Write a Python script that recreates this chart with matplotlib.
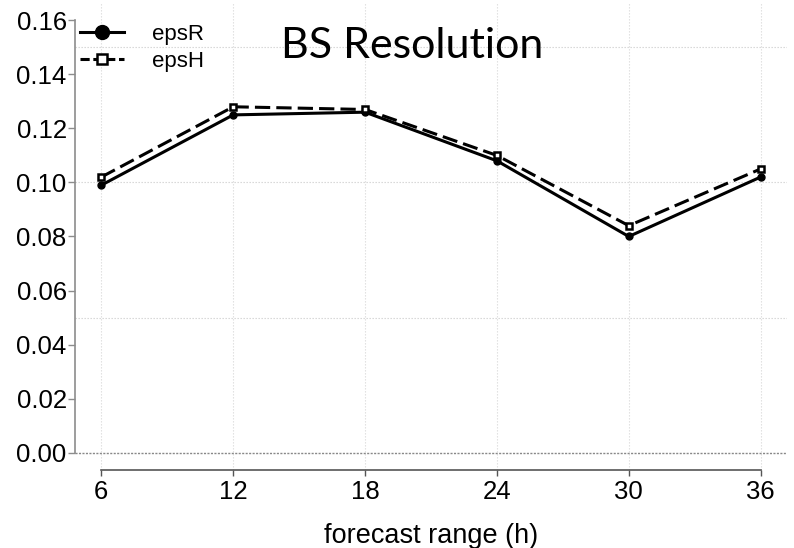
import numpy as np
import matplotlib
matplotlib.use("Agg")
from matplotlib import pyplot as plt
from matplotlib.lines import Line2D

# values
hours = [6, 12, 18, 24, 30, 36]
eps_r = [0.099, 0.125, 0.126, 0.108, 0.080, 0.102]
eps_h = [0.102, 0.128, 0.127, 0.110, 0.084, 0.105]
y_ticks = [0.00, 0.02, 0.04, 0.06, 0.08, 0.10, 0.12, 0.14, 0.16]
y_grid = [0.05, 0.10, 0.15]

plt.rcParams['font.family'] = ['Liberation Sans', 'DejaVu Sans']

fig = plt.figure(figsize=(7.94, 5.48), dpi=100)
ax = fig.add_axes([75 / 794, 1 - 470 / 548, 712 / 794, 467 / 548])

# R style range (4% padding)
ax.set_xlim(4.8, 37.2)
ax.set_ylim(-0.0064, 0.1664)

# grid
for h in hours:
    ax.axvline(h, color='#dddddd', lw=0.8, ls=(0, (1.2, 1.5)), zorder=0)
for g in y_grid:
    ax.axhline(g, color='#d2d2d2', lw=0.8, ls=(0, (1.2, 1.5)), zorder=0)
ax.axhline(0, color='#888888', lw=1.0, ls=(0, (1.5, 1)), zorder=0)

ax.plot(hours, eps_r, color='black', lw=2.2, marker='o', markersize=5,
        mfc='black', mec='black', zorder=3)
ax.plot(hours, eps_h, color='black', lw=2.2, ls=(0, (5, 2)), marker='s',
        markersize=5, mfc='white', mec='black', mew=1.8, zorder=3)

# axes like R base graphics
for s in ['top', 'right']:
    ax.spines[s].set_visible(False)
ax.spines['left'].set_bounds(0, 0.16)
ax.spines['bottom'].set_bounds(6, 36)
ax.spines['left'].set_color('#8c8c8c')
ax.spines['bottom'].set_color('#555555')
ax.spines['left'].set_linewidth(1.2)
ax.spines['bottom'].set_linewidth(1.2)

ax.set_xticks(hours)
ax.set_xticklabels([str(h) for h in hours])
ax.set_yticks(y_ticks)
ax.set_yticklabels(['%.2f' % v for v in y_ticks])
ax.tick_params(axis='y', length=5, width=1.0, color='#8c8c8c', pad=1, labelsize=18.5)
ax.tick_params(axis='x', length=4, width=1.0, color='#555555', pad=3, labelsize=18.5)

ax.set_xlabel("forecast range (h)", fontsize=19.5, labelpad=14)

handles = [
    Line2D([], [], color='black', lw=2.2, marker='o', markersize=10),
    Line2D([], [], color='black', lw=2.2, ls=(0, (3, 1.2)), marker='s',
           markersize=7, mfc='white', mew=1.8),
]
ax.legend(handles, ['epsR', 'epsH'], loc='upper left',
          bbox_to_anchor=(5 / 712, 1 - 21 / 467), frameon=False,
          fontsize=16, handlelength=2.0, handletextpad=1.25,
          labelspacing=0.25, borderpad=0, borderaxespad=0)

fig.text(412 / 794, 1 - 58 / 548, "BS Resolution", family=['Lato', 'DejaVu Sans'],
         fontsize=31, ha='center', va='baseline')

fig.savefig("out.png", dpi=100)
